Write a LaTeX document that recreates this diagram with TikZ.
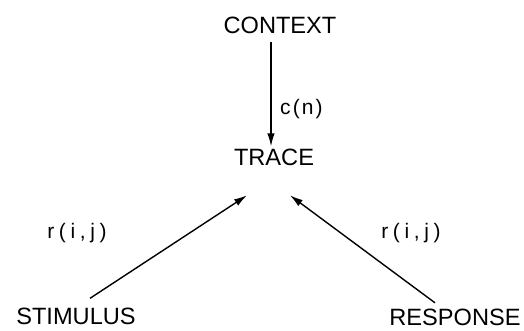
\documentclass[tikz,border=0pt]{standalone}
\usepackage{fontspec}
\setmainfont{Liberation Sans}
\newfontfamily\cnfont[LetterSpace=10]{Liberation Sans}
\newfontfamily\rijfont[LetterSpace=22]{Liberation Sans}
\usetikzlibrary{arrows.meta,calc}
\tikzset{
  caps/.style={inner sep=0pt, anchor=base, font=\fontsize{23.6bp}{28bp}\selectfont},
  lbl/.style={inner sep=0pt, anchor=base, font=\fontsize{21bp}{25bp}\selectfont},
  arr/.style={line width=1.4bp, -{Latex[length=13bp,width=7.5bp]}}
}
\begin{document}
\begin{tikzpicture}[x=1bp,y=-1bp]
\useasboundingbox (0,0) rectangle (524,330);
\node[caps] (context) at (280,33) {CONTEXT};
\node[caps] (trace) at (274,165) {TRACE};
\node[caps] (stimulus) at (76,324) {STIMULUS};
\node[caps] (response) at (455,325) {RESPONSE};
\node[lbl, anchor=base west] (cn) at (280,114) {\cnfont c(n)};
\node[lbl] (rl) at (77,238) {\rijfont r(i,j)};
\node[lbl] (rr) at (411,238) {\rijfont r(i,j)};
\draw[arr] ($(context.south)+(-9,9)$) -- ($(trace.north)+(-3,-2)$);
\draw[arr] ($(stimulus.north)+(14,-9)$) -- ($(trace.north)+(-27,47)$);
\draw[arr] ($(response.north)+(-20,-5.5)$) -- ($(trace.north)+(16,47)$);
\end{tikzpicture}
\end{document}
